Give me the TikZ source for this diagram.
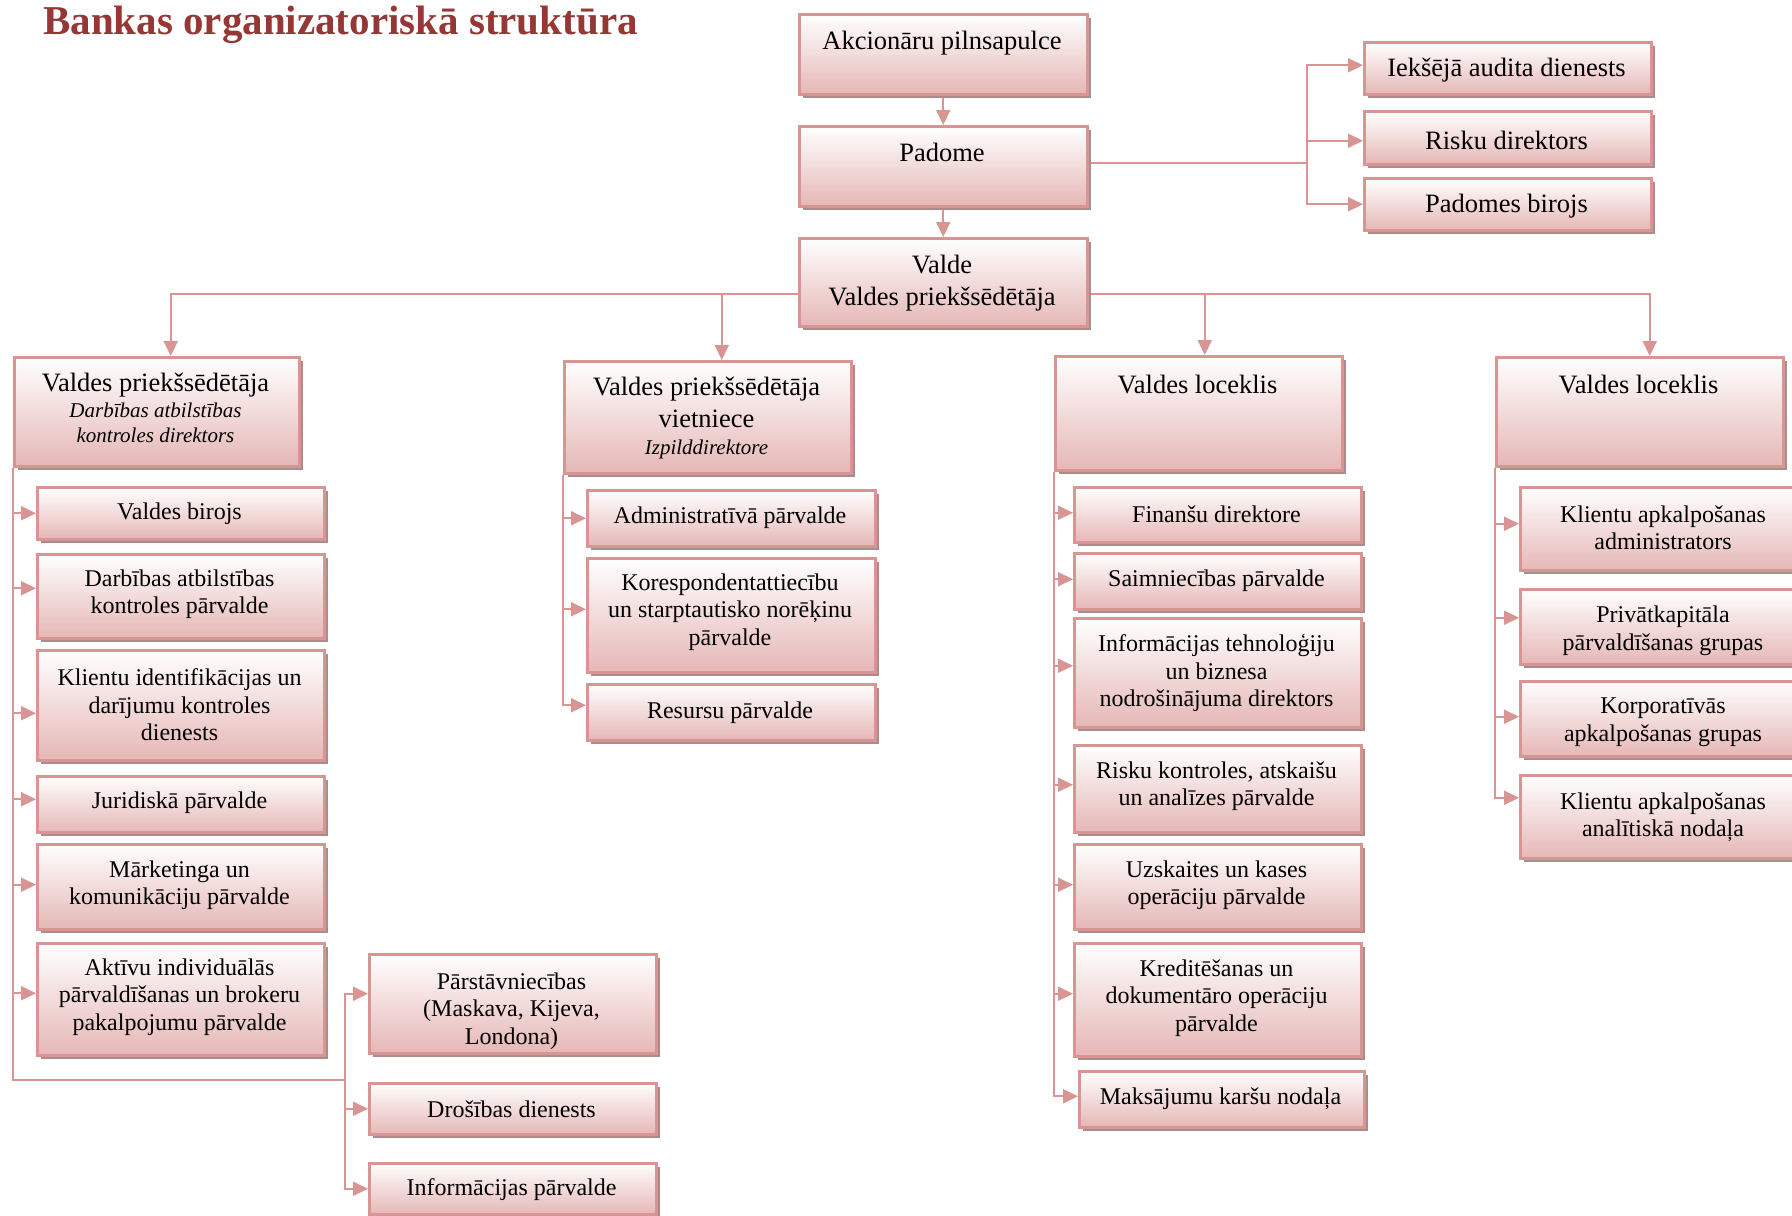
\documentclass[tikz,border=0pt]{standalone}
\usepackage{fontspec}
\setmainfont{Liberation Serif}
\usetikzlibrary{arrows.meta,shadows,calc,backgrounds}
\definecolor{bord}{RGB}{217,149,148}
\definecolor{pinkb}{RGB}{229,183,182}
\definecolor{shad}{RGB}{170,140,140}
\definecolor{titlec}{RGB}{149,55,53}
\newcommand\smit{\itshape\fontsize{21}{25}\selectfont}
\newcommand\bx[8]{%
 \node[box, anchor=north west, minimum width={(#4-#2)*1pt}, minimum height={(#5-#3)*1pt}] (#1) at (#2,#3) {};
 \node[#7] (#1t) at ({(#2+#4)/2},#6) {#8};}
\begin{document}
\begin{tikzpicture}[x=1pt,y=-1pt,
 box/.style={draw=bord, line width=2.5pt, top color=white, bottom color=pinkb, inner sep=0pt,
   drop shadow={shadow xshift=4pt, shadow yshift=-4pt, fill=shad, opacity=1}},
 lbl/.style={align=center, font=\fontsize{24}{27.5}\selectfont, inner sep=0pt, yshift=-3pt},
 big/.style={align=center, font=\fontsize{26.5}{32}\selectfont, inner sep=0pt, yshift=-3pt},
 line/.style={draw=bord, line width=2pt},
 arr/.style={line, -{Triangle[length=15pt,width=14pt]}},
]
\useasboundingbox (0,0) rectangle (1792,1216);

\node[font=\bfseries\fontsize{41}{48}\selectfont, text=titlec, anchor=base west, inner sep=0pt] (title) at (43,34) {Bankas organizatoriskā struktūra};

% top
\bx{ak}{798}{13}{1086}{93}{40}{big}{Akcionāru pilnsapulce}
\bx{pa}{798}{125}{1086}{205}{149}{big}{Padome}
\bx{va}{798}{237}{1086}{325}{280}{big}{Valde\\Valdes priekšsēdētāja}
% right of Padome
\bx{ia}{1363}{41}{1650}{93}{67}{big}{Iekšējā audita dienests}
\bx{rd}{1363}{110}{1650}{163}{137}{big}{Risku direktors}
\bx{pb}{1363}{177}{1650}{229}{203}{big}{Padomes birojs}
% heads
\bx{L0}{13}{356}{298}{465}{405}{big}{Valdes priekšsēdētāja\\[-6pt]\smit Darbības atbilstības\\[-7pt]\smit kontroles direktors}
\bx{M0}{563}{360}{850}{472}{415}{big}{Valdes priekšsēdētāja\\vietniece\\[-5pt]\smit Izpilddirektore}
\bx{T0}{1054}{355}{1341}{469}{381}{big}{Valdes loceklis}
\bx{F0}{1495}{356}{1782}{465}{381}{big}{Valdes loceklis}
% left column
\bx{L1}{36}{486}{323}{538}{511}{lbl}{Valdes birojs}
\bx{L2}{36}{553}{323}{637}{591}{lbl}{Darbības atbilstības\\kontroles pārvalde}
\bx{L3}{36}{649}{323}{759}{702}{lbl}{Klientu identifikācijas un\\darījumu kontroles\\dienests}
\bx{L4}{36}{775}{323}{831}{800}{lbl}{Juridiskā pārvalde}
\bx{L5}{36}{843}{323}{928}{882}{lbl}{Mārketinga un\\komunikāciju pārvalde}
\bx{L6}{36}{942}{323}{1054}{994}{lbl}{Aktīvu individuālās\\pārvaldīšanas un brokeru\\pakalpojumu pārvalde}
\bx{P1}{368}{953}{655}{1052}{1008}{lbl}{Pārstāvniecības\\(Maskava, Kijeva,\\Londona)}
\bx{P2}{368}{1082}{655}{1133}{1106}{lbl}{Drošības dienests}
\bx{P3}{368}{1162}{655}{1213}{1187}{lbl}{Informācijas pārvalde}
% middle column
\bx{M1}{586}{489}{874}{545}{515}{lbl}{Administratīvā pārvalde}
\bx{M2}{586}{557}{874}{671}{609}{lbl}{Korespondentattiecību\\un starptautisko norēķinu\\pārvalde}
\bx{M3}{586}{683}{874}{739}{710}{lbl}{Resursu pārvalde}
% third column
\bx{T1}{1073}{486}{1360}{541}{511}{lbl}{Finanšu direktore}
\bx{T2}{1073}{552}{1360}{608}{578}{lbl}{Saimniecības pārvalde}
\bx{T3}{1073}{617}{1360}{726}{670}{lbl}{Informācijas tehnoloģiju\\un biznesa\\nodrošinājuma direktors}
\bx{T4}{1073}{744}{1360}{831}{783}{lbl}{Risku kontroles, atskaišu\\un analīzes pārvalde}
\bx{T5}{1073}{843}{1360}{928}{882}{lbl}{Uzskaites un kases\\operāciju pārvalde}
\bx{T6}{1073}{942}{1360}{1055}{995}{lbl}{Kreditēšanas un\\dokumentāro operāciju\\pārvalde}
\bx{T7}{1078}{1070}{1363}{1126}{1096}{lbl}{Maksājumu karšu nodaļa}
% fourth column
\bx{F1}{1519}{486}{1807}{569}{525}{lbl}{Klientu apkalpošanas\\administrators}
\bx{F2}{1519}{588}{1807}{663}{628}{lbl}{Privātkapitāla\\pārvaldīšanas grupas}
\bx{F3}{1519}{680}{1807}{755}{719}{lbl}{Korporatīvās\\apkalpošanas grupas}
\bx{F4}{1519}{774}{1807}{857}{814}{lbl}{Klientu apkalpošanas\\analītiskā nodaļa}

\begin{scope}[on background layer]
\fill[white] (0,0) rectangle (1792,1216);
\draw[arr] (ak.south) -- (pa.north);
\draw[arr] (pa.south) -- (va.north);
\coordinate (pj) at (1307,163);
\draw[line] (pa.east |- pj) -- (pj);
\draw[arr] (pj) |- ([yshift=3pt]ia.west);
\draw[arr] (pj) |- ([yshift=-3pt]rd.west);
\draw[arr] (pj) |- (pb.west);
\coordinate (vL) at ([yshift=-12pt]va.west);
\coordinate (vR) at ([yshift=-12pt]va.east);
\draw[arr] (vL) -| ([xshift=14pt]L0.north);
\draw[arr] (vL) -| ([xshift=14pt]M0.north);
\draw[arr] (vR) -| ([xshift=6pt]T0.north);
\draw[arr] (vR) -| ([xshift=10pt]F0.north);
\draw[arr] (L0.south west) |- (L1.west);
\draw[arr] (L0.south west) |- ([yshift=8pt]L2.west);
\draw[arr] (L0.south west) |- ([yshift=-8pt]L3.west);
\draw[arr] (L0.south west) |- ([yshift=5pt]L4.west);
\draw[arr] (L0.south west) |- ([yshift=2pt]L5.west);
\draw[arr] (L0.south west) |- ([yshift=6pt]L6.west);
\coordinate (jL) at (345,1080);
\draw[line] (L0.south west) |- (jL);
\draw[arr] (jL) |- ([yshift=10pt]P1.west);
\draw[arr] (jL) |- (P2.west);
\draw[arr] (jL) |- (P3.west);
\draw[arr] (M0.south west) |- (M1.west);
\draw[arr] (M0.south west) |- ([yshift=6pt]M2.west);
\draw[arr] (M0.south west) |- ([yshift=7pt]M3.west);
\draw[arr] (T0.south west) |- ([yshift=2pt]T1.west);
\draw[arr] (T0.south west) |- ([yshift=2pt]T2.west);
\draw[arr] (T0.south west) |- ([yshift=7pt]T3.west);
\draw[arr] (T0.south west) |- ([yshift=4pt]T4.west);
\draw[arr] (T0.south west) |- ([yshift=2pt]T5.west);
\draw[arr] (T0.south west) |- ([yshift=6pt]T6.west);
\draw[arr] (T0.south west) |- ([yshift=3pt]T7.west);
\draw[arr] (F0.south west) |- ([yshift=5pt]F1.west);
\draw[arr] (F0.south west) |- ([yshift=9pt]F2.west);
\draw[arr] (F0.south west) |- ([yshift=2pt]F3.west);
\draw[arr] (F0.south west) |- ([yshift=19pt]F4.west);
\end{scope}
\end{tikzpicture}
\end{document}
